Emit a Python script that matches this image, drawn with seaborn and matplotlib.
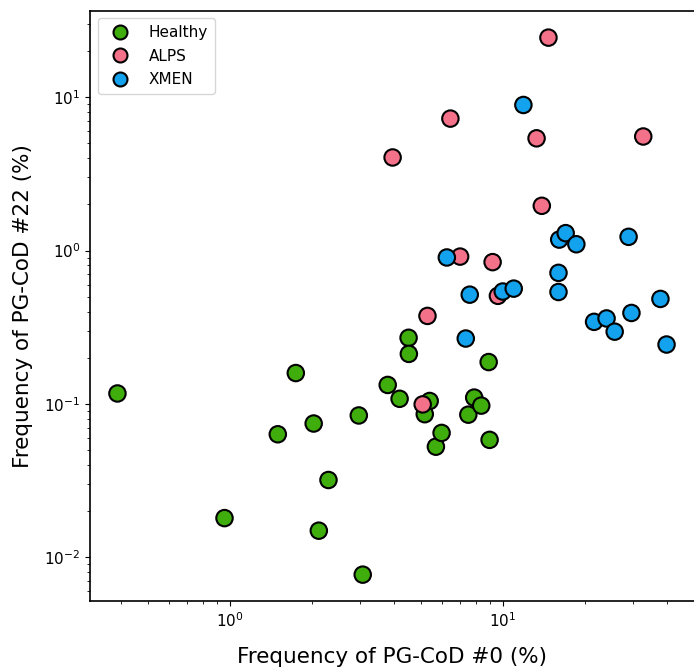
import numpy as np
import pandas as pd
import seaborn as sns
import matplotlib.pyplot as plt

# Valores (frecuencias en %)
healthy_x = [0.388, 1.746, 1.50, 2.03, 2.97, 2.30, 0.957, 2.12, 3.07, 3.79, 4.19,
             4.52, 4.53, 5.40, 5.18, 5.69, 5.97, 7.86, 7.48, 8.34, 8.88, 8.95]
healthy_y = [0.117, 0.159, 0.0634, 0.0745, 0.0841, 0.0319, 0.018, 0.0149, 0.0077, 0.133, 0.108,
             0.270, 0.212, 0.1045, 0.0857, 0.0526, 0.0647, 0.110, 0.0851, 0.0975, 0.1875, 0.0583]

alps_x = [14.7, 6.43, 3.95, 13.3, 32.7, 13.9, 6.98, 9.18, 9.60, 5.30, 5.09]
alps_y = [24.5, 7.26, 4.05, 5.40, 5.55, 1.96, 0.914, 0.841, 0.507, 0.375, 0.0993]

xmen_x = [11.9, 6.24, 7.57, 7.32, 10.0, 10.97, 16.1, 17.0, 18.6, 16.0, 16.0,
          28.9, 21.6, 24.0, 25.7, 29.6, 37.8, 39.8]
xmen_y = [8.91, 0.902, 0.516, 0.267, 0.541, 0.565, 1.18, 1.30, 1.10, 0.716, 0.537,
          1.23, 0.343, 0.361, 0.296, 0.392, 0.484, 0.244]

grupos = ["Healthy", "ALPS", "XMEN"]
colores = ["#3fae0d", "#f4718a", "#12a2ee"]

df = pd.DataFrame({
    "x": healthy_x + alps_x + xmen_x,
    "y": healthy_y + alps_y + xmen_y,
    "grupo": ["Healthy"] * len(healthy_x) + ["ALPS"] * len(alps_x) + ["XMEN"] * len(xmen_x),
})

fig = plt.figure(figsize=(6.94, 6.69), dpi=100)
ax = fig.add_axes([90 / 694, 0.1009, 1 - 90 / 694, 0.883])

sns.scatterplot(data=df, x="x", y="y", hue="grupo", hue_order=grupos,
                palette=colores, s=140, edgecolor="black", linewidth=1.5, ax=ax)

ax.set_xscale("log")
ax.set_yscale("log")
ax.set_xlabel("Frequency of PG-CoD #0 (%)", fontsize=15.5, labelpad=12)
ax.set_ylabel("Frequency of PG-CoD #22 (%)", fontsize=15.5, labelpad=8)
ax.tick_params(labelsize=11)
for s in ax.spines.values():
    s.set_linewidth(1.2)
# la imagen original esta recortada en el borde derecho
ax.spines["right"].set_visible(False)

ax.legend(loc="upper left", fontsize=11, title=None, markerscale=0.85,
          labelspacing=0.55, handletextpad=0.9, borderpad=0.45)

plt.savefig("out.png", dpi=100)
plt.close()
